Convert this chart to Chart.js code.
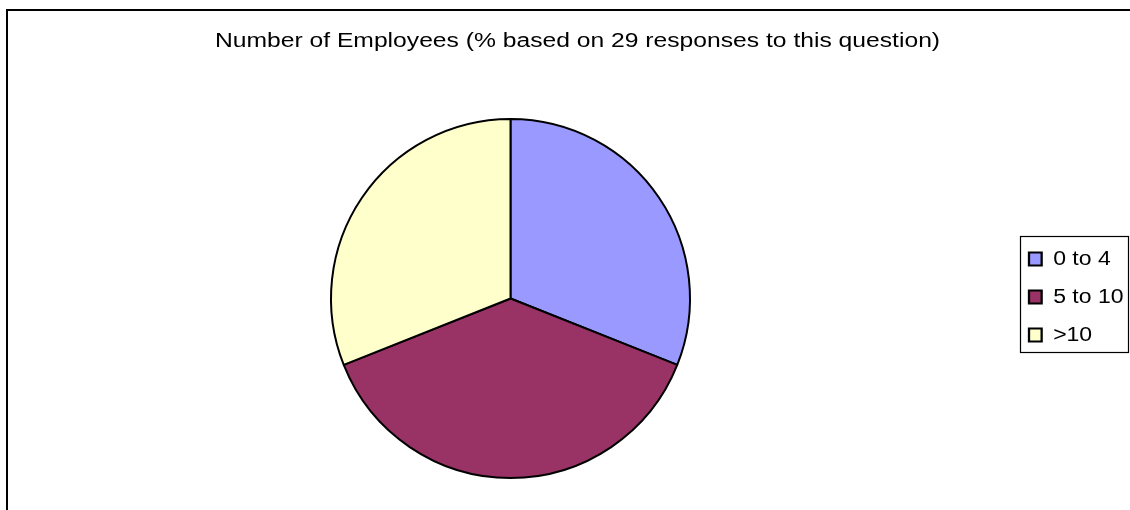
<!DOCTYPE html>
<html>
<head>
<meta charset="utf-8">
<title>Number of Employees</title>
<script src="https://cdn.jsdelivr.net/npm/chart.js@4.4.1/dist/chart.umd.min.js"></script>
<style>
  html, body { margin: 0; padding: 0; background: #fff; overflow: hidden; }
  #wrap { position: relative; width: 1130px; height: 510px; }
</style>
</head>
<body>
<div id="wrap"><canvas id="myChart" width="1130" height="510"></canvas></div>
<script>
'use strict';

// chart data
var categories = ['0 to 4', '5 to 10', '>10'];
var responses = [9, 11, 9];
var chartTitle = 'Number of Employees (% based on 29 responses to this question)';

// styling
var sliceColours = ['#9999FF', '#993366', '#FFFFCC'];
var fontName = "'Liberation Sans', Arial, sans-serif";

// the original's text is drawn wider than normal, so stretch a box's drawing sideways
function stretchBox(box, originX, factor) {
  if (box._stretched) return;
  var baseDraw = box.draw;
  box.draw = function () {
    var c = this.ctx;
    c.save();
    c.translate(originX, 0);
    c.scale(factor, 1);
    c.translate(-originX, 0);
    baseDraw.apply(this, arguments);
    c.restore();
  };
  box._stretched = true;
}

var framePlugin = {
  id: 'frame',
  afterLayout: function (chart) {
    // put the legend and title where the original has them
    var lg = chart.legend;
    lg.left = 1011;
    lg.right = 1115;
    lg.top = 214;
    lg.bottom = 380;
    lg.width = lg.right - lg.left;
    lg.height = lg.bottom - lg.top;
    stretchBox(lg, 1029, 1.15);

    var t = chart.titleBlock;
    t.left = 0;
    t.right = 1155;
    t.top = 29.2;
    t.bottom = t.top + 24;
    t.width = t.right - t.left;
    stretchBox(t, 577.5, 1.233);
  },
  beforeDraw: function (chart) {
    var ctx = chart.ctx;
    ctx.save();
    ctx.strokeStyle = '#000';
    ctx.lineWidth = 2;
    ctx.strokeRect(7, 10, 1200, 600);
    ctx.lineWidth = 1.2;
    ctx.strokeRect(1020.5, 236.5, 108, 116);
    ctx.restore();
  }
};

var ctx = document.getElementById('myChart').getContext('2d');
var chart = new Chart(ctx, {
  type: 'pie',
  data: {
    labels: categories,
    datasets: [{
      data: responses,
      backgroundColor: sliceColours,
      borderColor: '#000',
      borderWidth: 2
    }]
  },
  options: {
    responsive: false,
    animation: false,
    devicePixelRatio: 1,
    layout: {
      padding: { left: 330, right: 439, top: 94, bottom: 31 }
    },
    plugins: {
      title: {
        display: true,
        text: chartTitle,
        color: '#000',
        padding: 0,
        font: { family: fontName, size: 20, weight: 'normal' }
      },
      legend: {
        position: 'chartArea',
        align: 'center',
        labels: {
          color: '#000',
          boxWidth: 11,
          boxHeight: 13,
          padding: 18,
          font: { family: fontName, size: 20 }
        }
      },
      tooltip: { enabled: false }
    }
  },
  plugins: [framePlugin]
});
</script>
</body>
</html>
